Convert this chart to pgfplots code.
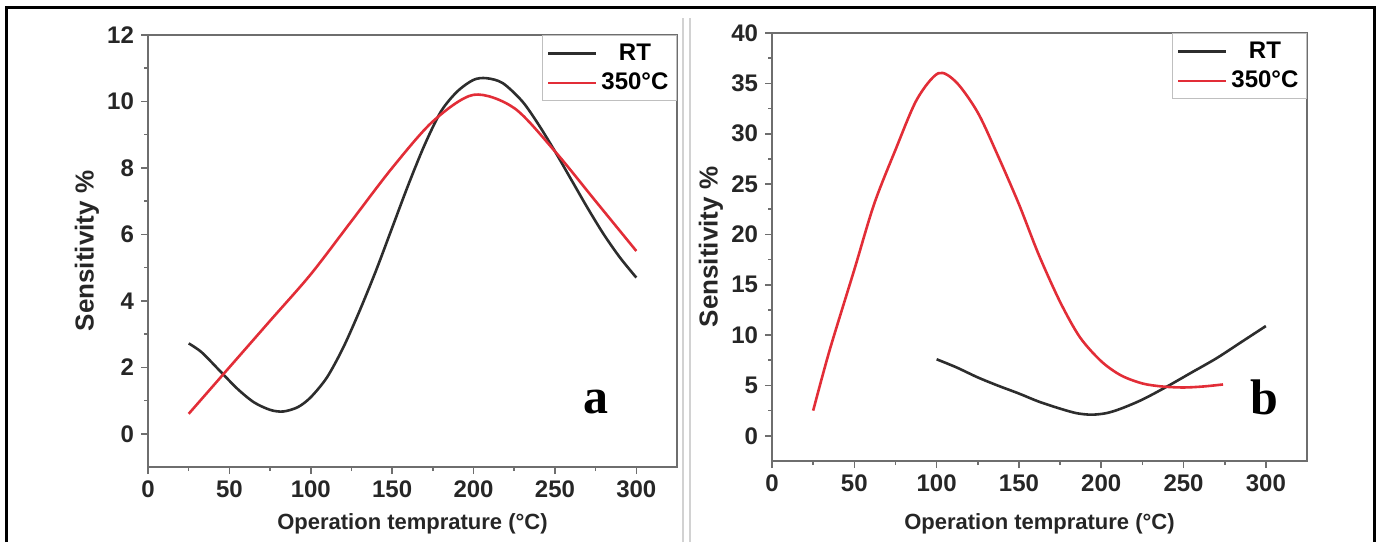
\documentclass[border=0pt]{standalone}
\usepackage{fontspec}
\setmainfont{Liberation Sans}
\newfontfamily\panelfont{Liberation Serif}
\usepackage{pgfplots}
\pgfplotsset{compat=1.18}
\definecolor{rtcol}{RGB}{45,45,45}
\definecolor{hotcol}{RGB}{226,45,55}
\definecolor{spine}{RGB}{110,110,110}

\pgfplotsset{sensax/.style={
  scale only axis, anchor=south west,
  xmin=0, xmax=325, xtick={0,50,...,300},
  minor x tick num=1, minor y tick num=1,
  tick align=outside, xtick pos=left, ytick pos=left,
  major tick length=3.5pt, minor tick length=2pt,
  axis line style={spine, line width=1pt},
  tick style={spine, line width=0.8pt},
  every tick label/.append style={font=\bfseries\fontsize{12}{14}\selectfont, text=black!85},
  /pgf/number format/assume math mode=true,
  xlabel={Operation temprature (°C)},
  ylabel={Sensitivity \%},
  every axis x label/.style={at={(rel axis cs:0.5,0)}, anchor=center,
    font=\bfseries\fontsize{11}{13}\selectfont, text=black!85},
  every axis y label/.style={at={(rel axis cs:0,0.5)}, xshift=-30.5pt,
    anchor=center, rotate=90,
    font=\bfseries\fontsize{13}{15}\selectfont, text=black!85},
  legend style={at={(1,1)}, anchor=north east, draw=gray!50, line width=0.6pt,
    font=\bfseries\fontsize{12}{14}\selectfont, inner xsep=2pt, inner ysep=2pt,
    row sep=1pt, cells={anchor=center}},
  legend image code/.code={\draw[##1] (0pt,0pt) -- (24pt,0pt);},
  every axis plot/.append style={smooth, line width=1.3pt, no markers},
}}

\begin{document}
\begin{tikzpicture}
\useasboundingbox (0,0) rectangle (690pt,271pt);
% outer frame and panel separator
\draw[line width=1.5pt] (3pt,0) -- (3pt,267pt) -- (687pt,267pt) -- (687pt,0);
\draw[gray!35, line width=0.8pt] (341.5pt,0) -- (341.5pt,262pt);
\draw[gray!35, line width=0.8pt] (345pt,0) -- (345pt,262pt);

% panel a
\begin{axis}[sensax, at={(74pt,37.5pt)}, width=264.5pt, height=216pt,
  ymin=-1, ymax=12, ytick={0,2,...,12},
  xlabel style={yshift=-28.5pt}]
\addplot[rtcol] coordinates {
  (25,2.72) (33,2.45) (45,1.85) (55,1.35) (65,0.95) (75,0.72) (83,0.67)
  (92,0.8) (100,1.1) (110,1.7) (120,2.6) (130,3.7) (140,4.9) (150,6.2)
  (160,7.5) (170,8.7) (180,9.7) (190,10.3) (200,10.65) (208,10.7)
  (218,10.55) (230,10.0) (240,9.3) (250,8.5) (260,7.65) (270,6.8)
  (280,6.0) (290,5.3) (300,4.7)
};
\addplot[hotcol] coordinates {
  (25,0.6) (50,2.0) (75,3.4) (100,4.8) (125,6.4) (150,8.0) (175,9.4)
  (200,10.2) (225,9.8) (250,8.5) (275,7.0) (300,5.5)
};
\legend{RT, 350°C}
\node[font=\panelfont\bfseries\fontsize{25}{25}\selectfont, anchor=base]
  at (axis cs:275,0.6) {a};
\end{axis}

% panel b
\begin{axis}[sensax, at={(386pt,40.5pt)}, width=267.5pt, height=214pt,
  ymin=-2.5, ymax=40, ytick={0,5,...,40},
  xlabel style={yshift=-31.5pt}]
\addplot[rtcol] coordinates {
  (100,7.6) (112,6.8) (125,5.8) (137,5.0) (150,4.2) (162,3.4) (175,2.7)
  (185,2.25) (194,2.1) (203,2.25) (212,2.7) (225,3.6) (240,4.9)
  (255,6.3) (270,7.7) (285,9.3) (300,10.9)
};
\addplot[hotcol] coordinates {
  (25,2.5) (35,8.5) (50,16.5) (62,23.0) (75,28.4) (88,33.4) (101,36.0)
  (112,35.1) (125,32.1) (137,27.9) (150,23.0) (162,18.0) (175,13.3)
  (187,9.8) (200,7.4) (212,6.0) (225,5.2) (237,4.9) (250,4.8) (262,4.9)
  (274,5.1)
};
\legend{RT, 350°C}
\node[font=\panelfont\bfseries\fontsize{25}{25}\selectfont, anchor=base]
  at (axis cs:299,2.1) {b};
\end{axis}
\end{tikzpicture}
\end{document}
